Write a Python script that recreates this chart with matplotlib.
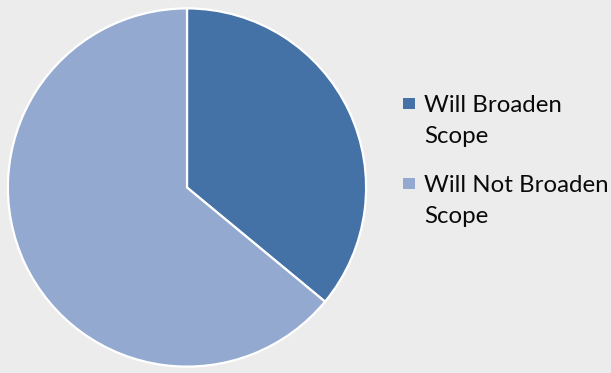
import matplotlib
matplotlib.use("Agg")
import matplotlib.pyplot as plt
from matplotlib.patches import Rectangle

categories = ["Will Broaden\nScope", "Will Not Broaden\nScope"]
shares = [36, 64]
colors = ["#4472A7", "#93A9CF"]

W, H = 611, 373
fig = plt.figure(figsize=(W / 100, H / 100), dpi=100)
fig.patch.set_facecolor("#ECECEC")

# pie area: centre (187, 187.5) px from top-left, radius 180 px
cx, cy, r = 187, 187.5, 180
ax = fig.add_axes([(cx - r) / W, (H - cy - r) / H, 2 * r / W, 2 * r / H])
ax.pie(shares, colors=colors, startangle=90, counterclock=False,
       wedgeprops=dict(edgecolor="white", linewidth=1.6), radius=1.0)
ax.set_xlim(-1.005, 1.005)
ax.set_ylim(-1.005, 1.005)
ax.set_aspect("equal")
ax.axis("off")

# legend drawn as colour squares with wrapped labels
font = dict(family="Lato", size=17.3, color="#0A0A0A")
tops = [98, 178]
for label, col, top in zip(categories, colors, tops):
    fig.add_artist(Rectangle((403 / W, (H - top - 11) / H), 12 / W, 11 / H,
                             transform=fig.transFigure, facecolor=col,
                             edgecolor="none"))
    first, second = label.split("\n")
    base = top + 14
    fig.text(424 / W, (H - base) / H, first, va="baseline", ha="left", **font)
    fig.text(424 / W, (H - base - 31) / H, second, va="baseline", ha="left", **font)

fig.savefig("out.png", dpi=100, facecolor=fig.get_facecolor())
